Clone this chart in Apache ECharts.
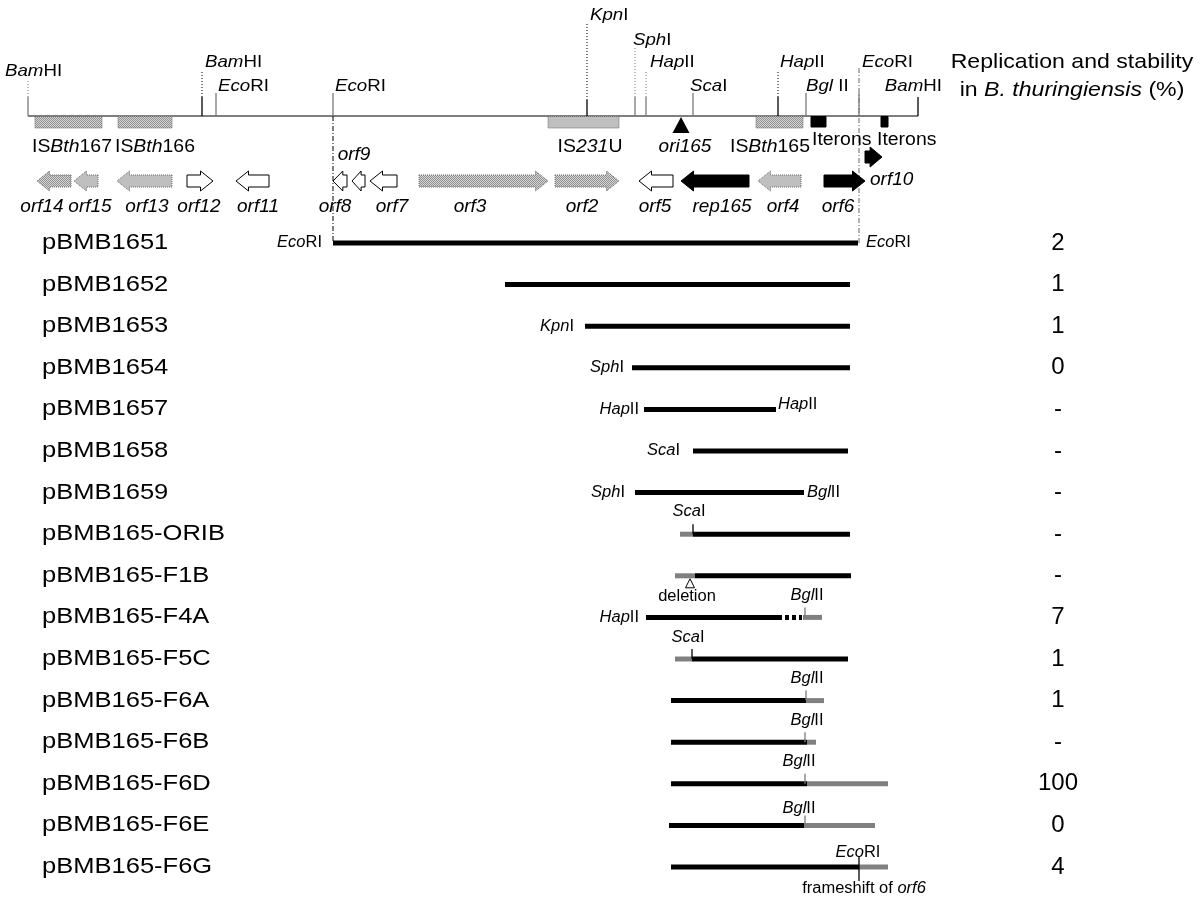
<!DOCTYPE html>
<html><head><meta charset="utf-8">
<script src="https://cdn.jsdelivr.net/npm/echarts@6/dist/echarts.min.js"></script>
<style>html,body{margin:0;padding:0;background:#fff}#c{width:1200px;height:900px}</style>
</head><body><div id="c"></div>
<script>
const FONT = '"Liberation Sans", Arial, Helvetica, sans-serif';

// ---------- physical map (horizontal map units) ----------
const mapSpan = [28, 918];
const mapTrack = 116;                 // backbone track
// restriction sites
const siteItalic = ['Bam', 'Bam', 'Eco', 'Eco', 'Kpn', 'Sph', 'Hap', 'Sca', 'Hap', 'Bgl', 'Eco', 'Bam'];
const siteRoman  = ['HI', 'HI', 'RI', 'RI', 'I', 'I', 'II', 'I', 'II', ' II', 'RI', 'HI'];
const sitePos    = [28, 202, 216, 333, 587, 635, 646, 693, 778, 806, 859, 918];
const siteLabelY = [71, 62, 86, 86, 15, 40, 62, 86, 62, 86, 62, 86];
const siteLabelX = [5, 205, 218, 335, 590, 633, 650, 690, 780, 806, 862, 942];
const siteAlign  = ['left','left','left','left','left','left','left','left','left','left','left','right'];
const siteDotTop = [80, 70, null, null, 22, 47, 70, null, 70, null, null, null];
const siteSolidTop = [97, 97, 93, 93, 100, 97, 97, 93, 97, 93, 93, 97];
const siteColour = ['#7a7a7a','#000','#7a7a7a','#7a7a7a','#000','#7a7a7a','#7a7a7a','#7a7a7a','#000','#7a7a7a','#7a7a7a','#000'];
// long EcoRI guide lines
const guidePos = [333, 859];
const guideFrom = [116, 68];
const guideTo = [243, 245];
const guideColour = ['#000', '#666'];

// boxes under the backbone (IS elements, iterons)
const boxStart = [35, 118, 548, 756, 811, 881];
const boxEnd   = [102, 172, 619, 803, 826, 888];
const boxFill  = ['hatch', 'hatch', 'grey', 'hatch', 'black', 'black'];
// box labels
const boxLabelPre = ['IS', 'IS', 'IS', 'IS', '', 'Iterons', 'Iterons'];
const boxLabelIt  = ['Bth', 'Bth', '231', 'Bth', 'ori165', '', ''];
const boxLabelSuf = ['167', '166', 'U', '165', '', '', ''];
const boxLabelX   = [32, 115, 590, 730, 685, 812, 877];
const boxLabelY   = [147, 147, 147, 147, 147, 140, 140];
const boxLabelAlign = ['left', 'left', 'center', 'left', 'center', 'left', 'left'];
const oriPos = 681;

// genes (arrows)
const geneNames = ['orf14','orf15','orf13','orf12','orf11','orf8','orf9','orf7','orf3','orf2','orf5','rep165','orf4','orf6','orf10'];
const geneStart = [37, 74, 117, 187, 236, 333, 352, 370, 419, 555, 639, 681, 758, 824, 865];
const geneEnd   = [71, 98, 172, 213, 269, 347, 365, 397, 548, 619, 673, 749, 801, 865, 882];
const geneDir   = ['L','L','L','R','L','L','L','L','R','R','L','L','L','R','R'];
const geneFill  = ['hatch','grey','grey','white','white','white','white','white','hatch','hatch','white','black','grey','black','black'];
const geneTrack = [181,181,181,181,181,181,181,181,181,181,181,181,181,181,157];
const geneLabelX = [42, 90, 147, 199, 258, 335, 354, 392, 470, 582, 655, 722, 783, 838, 870];
const geneLabelY = [207,207,207,207,207,207,155,207,207,207,207,207,207,207,180];
const geneLabelAlign = ['center','center','center','center','center','center','center','center','center','center','center','center','center','center','left'];

// ---------- deletion constructs ----------
const constructs = ['pBMB1651','pBMB1652','pBMB1653','pBMB1654','pBMB1657','pBMB1658','pBMB1659',
  'pBMB165-ORIB','pBMB165-F1B','pBMB165-F4A','pBMB165-F5C','pBMB165-F6A','pBMB165-F6B',
  'pBMB165-F6D','pBMB165-F6E','pBMB165-F6G'];
const replication = ['2','1','1','0','-','-','-','-','-','7','1','1','-','100','0','4'];
// fragment segments (k = pBMB165 DNA, g = other DNA, d = dotted)
const segRow   = [0,1,2,3,4,5,6,7,7,8,8,9,9,9,10,10,11,11,12,12,13,13,14,14,15,15];
const segStart = [333,505,585,632,644,693,635,680,693,675,695,646,778,803,675,692,671,806,671,807,671,807,669,804,671,859];
const segEnd   = [858,850,850,850,776,848,804,693,850,695,851,778,802,822,692,848,806,824,807,816,807,888,804,875,859,888];
const segKind  = ['k','k','k','k','k','k','k','g','k','g','k','k','d','g','g','k','k','g','k','g','k','g','k','g','k','g'];
// site ticks on fragments
const tickRow = [7, 9, 10, 11, 12, 13, 14, 15];
const tickPos = [693, 805, 692, 806, 805, 805, 805, 859];
const tickColour = ['#000','#7a7a7a','#000','#7a7a7a','#7a7a7a','#7a7a7a','#7a7a7a','#000'];
// fragment labels
const fragLabelRow = [0,0,2,3,4,4,5,6,6,7,8,9,9,10,11,12,13,14,15,15];
const fragLabelX   = [322,866,574,624,639,778,680,625,807,689,687,639,807,688,807,807,799,799,858,864];
const fragLabelIt  = ['Eco','Eco','Kpn','Sph','Hap','Hap','Sca','Sph','Bgl','Sca','','Hap','Bgl','Sca','Bgl','Bgl','Bgl','Bgl','Eco','orf6'];
const fragLabelRm  = ['RI','RI','I','I','II','II','I','I','II','I','deletion','II','II','I','II','II','II','II','RI',''];
const fragLabelPre = ['','','','','','','','','','','','','','','','','','','','frameshift of '];
const fragLabelAlign = ['right','left','right','right','right','left','right','right','left','center','center','right','center','center','center','center','center','center','center','center'];
const fragLabelDy  = [0,0,0,0,0,-5,0,0,0,-23,21,0,-22,-21,-22,-22,-22,-17,-14,22];
const deletionRow = 8, deletionPos = 690;

// ---------- helpers ----------
const patCanvas = document.createElement('canvas');
patCanvas.width = 2; patCanvas.height = 2;
(function(){const g = patCanvas.getContext('2d');
  g.fillStyle = '#d4d4d4'; g.fillRect(0,0,2,2);
  g.fillStyle = '#929292'; g.fillRect(0,0,1,1); g.fillRect(1,1,1,1);})();
const HATCH = {image: patCanvas, repeat: 'repeat'};
function fillOf(k){ return k==='hatch'?HATCH:k==='grey'?'#bfbfbf':k==='black'?'#000':'#fff'; }
function strokeOf(k){ return k==='black'?'#000':k==='white'?'#000':'#6a6a6a'; }
function dashOf(k){ return (k==='hatch'||k==='grey')?[1,1]:null; }

function rich(size){ return { i:{fontStyle:'italic', fontSize:size, fontFamily:FONT, fill:'#000'},
                             r:{fontStyle:'normal', fontSize:size, fontFamily:FONT, fill:'#000'} }; }
function txt(x, y, text, size, align, sx, italic){
  return {type:'text', x:x, y:y, scaleX:sx||1, silent:true,
    style:{text:text, fill:'#000', fontSize:size, fontFamily:FONT, fontStyle: italic?'italic':'normal',
      align:align||'left', verticalAlign:'middle', rich:rich(size)}};
}
function mix(it, rm, pre){
  let s = '';
  if (pre) s += '{r|' + pre + '}';
  if (it) s += '{i|' + it + '}';
  if (rm) s += '{r|' + rm + '}';
  return s;
}
const idx = a => a.map((_, i) => i);

// ---------- renderers ----------
function renderSites(params, api){
  const i = params.dataIndex, p = sitePos[i];
  const base = api.coord([p, mapTrack]), solid = api.coord([p, siteSolidTop[i]]);
  const ch = [{type:'line', shape:{x1:base[0],y1:base[1],x2:solid[0],y2:solid[1]}, style:{stroke:siteColour[i], lineWidth:1.3}}];
  if (siteDotTop[i] != null){
    const d = api.coord([p, siteDotTop[i]]);
    ch.push({type:'line', shape:{x1:solid[0],y1:solid[1],x2:d[0],y2:d[1]}, style:{stroke:siteColour[i], lineWidth:1, lineDash:[1,2]}});
  }
  const lp = api.coord([siteLabelX[i], siteLabelY[i]]);
  ch.push(txt(lp[0], lp[1], mix(siteItalic[i], siteRoman[i]), 17, siteAlign[i], 1.1));
  return {type:'group', children:ch};
}
function renderGuides(params, api){
  const i = params.dataIndex;
  const a = api.coord([guidePos[i], guideFrom[i]]), b = api.coord([guidePos[i], guideTo[i]]);
  return {type:'line', shape:{x1:a[0],y1:a[1],x2:b[0],y2:b[1]}, style:{stroke:guideColour[i], lineWidth:1, lineDash:[5,2,1,2]}};
}
function renderBackbone(params, api){
  const a = api.coord([mapSpan[0], mapTrack]), b = api.coord([mapSpan[1], mapTrack]);
  const t = api.coord([oriPos, mapTrack + 1]), tb = api.coord([oriPos, mapTrack + 17]);
  return {type:'group', children:[
    {type:'line', shape:{x1:a[0],y1:a[1],x2:b[0],y2:b[1]}, style:{stroke:'#000', lineWidth:1.2}},
    {type:'polygon', shape:{points:[[t[0],t[1]],[t[0]-8.5,tb[1]],[t[0]+8.5,tb[1]]]}, style:{fill:'#000'}}
  ]};
}
function renderBoxes(params, api){
  const i = params.dataIndex;
  const a = api.coord([boxStart[i], mapTrack]), b = api.coord([boxEnd[i], mapTrack + (boxFill[i]==='black'?11:12)]);
  return {type:'rect', shape:{x:a[0], y:a[1]+0.5, width:b[0]-a[0], height:b[1]-a[1]-0.5},
    style:{fill:fillOf(boxFill[i]), stroke:strokeOf(boxFill[i]), lineWidth:1, lineDash:dashOf(boxFill[i])}};
}
function renderBoxLabels(params, api){
  const i = params.dataIndex;
  const p = api.coord([boxLabelX[i], boxLabelY[i]]);
  const ori = boxLabelIt[i] === 'ori165';
  return txt(p[0], p[1], mix(boxLabelIt[i], boxLabelSuf[i], boxLabelPre[i]), ori?19:18, boxLabelAlign[i], ori?1.0:1.08);
}
function renderGenes(params, api){
  const i = params.dataIndex;
  const a = api.coord([geneStart[i], geneTrack[i]]), b = api.coord([geneEnd[i], geneTrack[i]]);
  const x1 = a[0], x2 = b[0], cy = a[1], len = x2 - x1;
  const hl = Math.min(12.5, len * 0.7), hh = 10, bh = 6;
  let pts;
  if (geneDir[i] === 'R'){
    pts = [[x1,cy-bh],[x2-hl,cy-bh],[x2-hl,cy-hh],[x2,cy],[x2-hl,cy+hh],[x2-hl,cy+bh],[x1,cy+bh]];
  } else {
    pts = [[x2,cy-bh],[x1+hl,cy-bh],[x1+hl,cy-hh],[x1,cy],[x1+hl,cy+hh],[x1+hl,cy+bh],[x2,cy+bh]];
  }
  const k = geneFill[i];
  return {type:'polygon', shape:{points:pts}, style:{fill:fillOf(k), stroke:strokeOf(k), lineWidth:1, lineDash:dashOf(k)}};
}
function renderGeneLabels(params, api){
  const i = params.dataIndex;
  const p = api.coord([geneLabelX[i], geneLabelY[i]]);
  return txt(p[0], p[1], geneNames[i], 19, geneLabelAlign[i], 1, true);
}
function renderTitle(params, api){
  const p1 = api.coord([1072, 62]), p2 = api.coord([1072, 90]);
  return {type:'group', children:[
    txt(p1[0], p1[1], '{r|Replication and stability}', 21, 'center', 1.1),
    txt(p2[0], p2[1], '{r|in }{i|B. thuringiensis}{r| (%)}', 21, 'center', 1.1)
  ]};
}
// construct part
function renderSegs(params, api){
  const i = params.dataIndex;
  const a = api.coord([segStart[i], segRow[i]]), b = api.coord([segEnd[i], segRow[i]]);
  const k = segKind[i];
  return {type:'line', shape:{x1:a[0],y1:a[1],x2:b[0],y2:b[1]},
    style:{stroke: k==='g'?'#808080':'#000', lineWidth:5, lineDash: k==='d'?[4,3]:null}};
}
function renderTicks(params, api){
  const i = params.dataIndex;
  const p = api.coord([tickPos[i], tickRow[i]]);
  const below = i === tickPos.length - 1 ? 14 : 0;
  return {type:'line', shape:{x1:p[0],y1:p[1]-10,x2:p[0],y2:p[1]+below}, style:{stroke:tickColour[i], lineWidth:1.3}};
}
function renderFragLabels(params, api){
  const i = params.dataIndex;
  const p = api.coord([fragLabelX[i], fragLabelRow[i]]);
  return txt(p[0], p[1] + fragLabelDy[i], mix(fragLabelIt[i], fragLabelRm[i], fragLabelPre[i]), 16, fragLabelAlign[i], 1.03);
}
function renderDeletion(params, api){
  const p = api.coord([deletionPos, deletionRow]);
  return {type:'polygon', shape:{points:[[p[0],p[1]+3],[p[0]-4.5,p[1]+12],[p[0]+4.5,p[1]+12]]},
    style:{fill:'#fff', stroke:'#000', lineWidth:1}};
}
function renderRowLabels(params, api){
  const i = params.dataIndex;
  const p = api.coord([42, i]);
  return txt(p[0], p[1], '{r|' + constructs[i] + '}', 22, 'left', 1.16);
}
function renderValues(params, api){
  const i = params.dataIndex;
  const p = api.coord([1058, i]);
  return txt(p[0], p[1], '{r|' + replication[i] + '}', 24, 'center', 1);
}

function cs(render, data, g){
  return {type:'custom', renderItem:render, data:data, xAxisIndex:g, yAxisIndex:g, silent:true, animation:false};
}

const chart = echarts.init(document.getElementById('c'), null, {renderer:'canvas'});
chart.setOption({
  animation:false,
  backgroundColor:'#fff',
  grid:[{left:0, right:0, top:0, height:222},
        {left:0, right:0, top:222.2, bottom:12.2}],
  xAxis:[{type:'value', min:0, max:1200, show:false, gridIndex:0},
         {type:'value', min:0, max:1200, show:false, gridIndex:1}],
  yAxis:[{type:'value', min:0, max:222, inverse:true, show:false, gridIndex:0},
         {type:'category', data:constructs, inverse:true, show:false, gridIndex:1}],
  series:[
    cs(renderGuides, idx(guidePos), 0),
    cs(renderBackbone, [0], 0),
    cs(renderSites, idx(sitePos), 0),
    cs(renderBoxes, idx(boxStart), 0),
    cs(renderBoxLabels, idx(boxLabelX), 0),
    cs(renderGenes, idx(geneNames), 0),
    cs(renderGeneLabels, idx(geneNames), 0),
    cs(renderTitle, [0], 0),
    cs(renderSegs, idx(segRow), 1),
    cs(renderTicks, idx(tickRow), 1),
    cs(renderFragLabels, idx(fragLabelRow), 1),
    cs(renderDeletion, [0], 1),
    cs(renderRowLabels, idx(constructs), 1),
    cs(renderValues, idx(replication), 1)
  ]
});
</script></body></html>
